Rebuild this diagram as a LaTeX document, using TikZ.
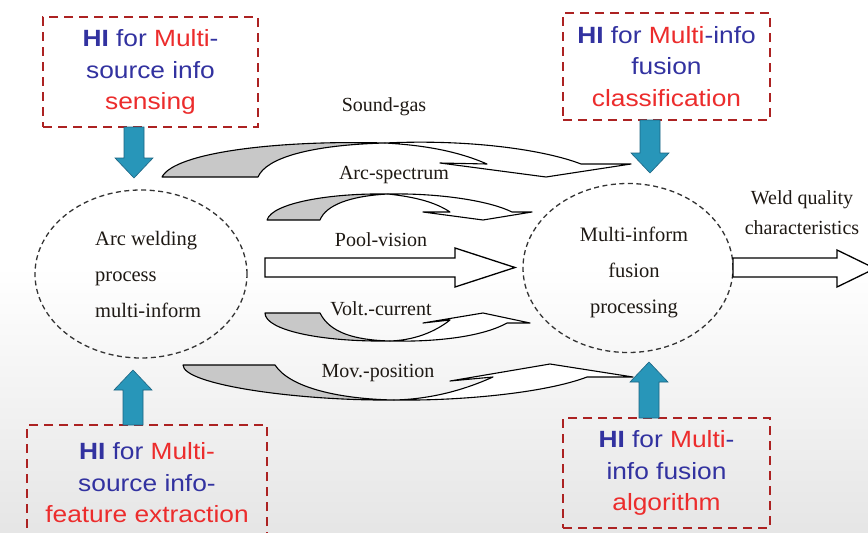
\documentclass[tikz,border=0pt]{standalone}
\usepackage{fontspec}
\setmainfont{Liberation Serif}
\newfontfamily\boxfont[FakeStretch=1.12]{Liberation Sans}
\usetikzlibrary{shapes.geometric}

\definecolor{hiblue}{RGB}{50,50,160}
\definecolor{hired}{RGB}{236,44,44}
\definecolor{boxred}{RGB}{172,34,34}
\definecolor{hiteal}{RGB}{40,150,185}
\definecolor{hitealdark}{RGB}{28,100,130}
\definecolor{backshade}{RGB}{200,200,200}
\definecolor{labelink}{RGB}{30,25,20}

\newcommand{\HIword}{\textcolor{hiblue}{\textbf{HI}}}
\newcommand{\bl}[1]{\textcolor{hiblue}{#1}}
\newcommand{\rd}[1]{\textcolor{hired}{#1}}

\tikzset{
  hibox/.style={draw=boxred, line width=2.8pt, dash pattern=on 9pt off 6pt,
    align=center, inner sep=0pt, font=\boxfont\fontsize{23.5}{31.5}\selectfont},
  stage/.style={ellipse, draw=black!80, line width=1.3pt,
    dash pattern=on 5pt off 3.5pt},
  stagetext/.style={font=\fontsize{20.5}{36}\selectfont, text=labelink, inner sep=0pt},
  flowlabel/.style={font=\fontsize{20}{24}\selectfont, text=labelink, inner sep=0pt},
  band/.style={draw=black, line width=1.1pt, line join=round},
  hollow/.style={draw=black, fill=white, line width=1.3pt, line join=miter},
  hiarrowstyle/.style={fill=hiteal, draw=hitealdark, line width=0.6pt, line join=miter},
  pics/hiarrow/.style={code={
    \filldraw[hiarrowstyle] (0,0) -- (19,-20) -- (10,-20) -- (10,-#1)
      -- (-10,-#1) -- (-10,-20) -- (-19,-20) -- cycle;}}
}

\begin{document}
\begin{tikzpicture}[x=1pt,y=-1pt]
  % canvas with a soft vertical shading
  \useasboundingbox (0,0) rectangle (868,533);
  \shade[top color=white, bottom color=black!10, middle color=white] (0,0) rectangle (868,533);

  % human-intelligence boxes
  \node[hibox, minimum width=215, minimum height=110] (sensing) at (150.5,72)
    {\HIword\ \bl{for} \rd{Multi}\bl{-}\\ \bl{source info}\\ \rd{sensing}};
  \node[hibox, minimum width=207, minimum height=107] (classif) at (666.5,66.5)
    {\HIword\ \bl{for} \rd{Multi}\bl{-info}\\ \bl{fusion}\\ \rd{classification}};
  \node[hibox, minimum width=240, minimum height=116] (feature) at (147,483)
    {\HIword\ \bl{for} \rd{Multi-}\\ \bl{source info-}\\ \rd{feature extraction}};
  \node[hibox, minimum width=207, minimum height=110] (algo) at (666.5,473)
    {\HIword\ \bl{for} \rd{Multi}\bl{-}\\ \bl{info fusion}\\ \rd{algorithm}};

  % teal block arrows between boxes and process stages
  \pic at (134,178) {hiarrow=51};
  \pic at (650,173) {hiarrow=53};
  \pic[yscale=-1] at (133,370) {hiarrow=55};
  \pic[yscale=-1] at (649,362) {hiarrow=56};

  % process stages
  \node[stage, minimum width=212, minimum height=168] (source) at (141,274) {};
  \node[stagetext, align=left, anchor=west] (sourcetext) at (95,274)
    {Arc welding\\process\\multi-inform};
  \node[stage, minimum width=210, minimum height=169] (fusion) at (628,268) {};
  \node[stagetext, align=center] (fusiontext) at (634,272)
    {Multi-inform\\fusion\\processing};

  % Sound-gas channel
  \filldraw[band, fill=backshade] (162,177) -- (258,177)
    .. controls (266,158) and (310,145) .. (385,143)
    .. controls (280,140) and (175,152) .. (162,177) -- cycle;
  \filldraw[band, fill=white] (385,143)
    .. controls (470,139) and (545,150) .. (581,164)
    -- (631,164) -- (546,177) -- (440,163) -- (487,164)
    .. controls (455,150) and (420,145) .. (385,143) -- cycle;
  \node[flowlabel] (lsound) at (384,107) {Sound-gas};

  % Arc-spectrum channel
  \filldraw[band, fill=backshade] (267,220) -- (320,220)
    .. controls (326,205) and (350,196) .. (388,194)
    .. controls (330,193) and (272,203) .. (267,220) -- cycle;
  \filldraw[band, fill=white] (388,194)
    .. controls (440,193) and (490,201) .. (512,212)
    -- (532,212) -- (483,220) -- (423,212) -- (450,212)
    .. controls (435,202) and (415,197) .. (388,194) -- cycle;
  \node[flowlabel] (lspec) at (394,175) {Arc-spectrum};

  % Pool-vision channel
  \filldraw[hollow] (265,258) -- (455,258) -- (455,248) -- (515,267.5)
    -- (455,287) -- (455,277) -- (265,277) -- cycle;
  \node[flowlabel] (lpool) at (381,240) {Pool-vision};

  % Volt.-current channel
  \filldraw[band, fill=backshade] (265,313) -- (320,313)
    .. controls (330,333) and (355,340) .. (390,341)
    .. controls (320,342) and (265,330) .. (265,313) -- cycle;
  \filldraw[band, fill=white] (390,341)
    .. controls (420,340) and (440,328) .. (450,320)
    -- (423,323) -- (483,313) -- (530,323) -- (507,323)
    .. controls (480,338) and (430,342) .. (390,341) -- cycle;
  \node[flowlabel] (lvolt) at (381,309) {Volt.-current};

  % Mov.-position channel
  \filldraw[band, fill=backshade] (183,365) -- (275,365)
    .. controls (290,388) and (340,399) .. (394,400)
    .. controls (300,401) and (183,385) .. (183,365) -- cycle;
  \filldraw[band, fill=white] (394,400)
    .. controls (440,399) and (475,385) .. (493,377)
    -- (450,381) -- (550,364) -- (633,377) -- (587,377)
    .. controls (545,393) and (460,401) .. (394,400) -- cycle;
  \node[flowlabel] (lmov) at (378,373) {Mov.-position};

  % output
  \filldraw[hollow] (733,258) -- (837,258) -- (837,250) -- (875,268.5)
    -- (837,287) -- (837,277) -- (733,277) -- cycle;
  \node[flowlabel, align=center, font=\fontsize{20}{30}\selectfont] (lweld) at (802,213)
    {Weld quality\\characteristics};
\end{tikzpicture}
\end{document}
